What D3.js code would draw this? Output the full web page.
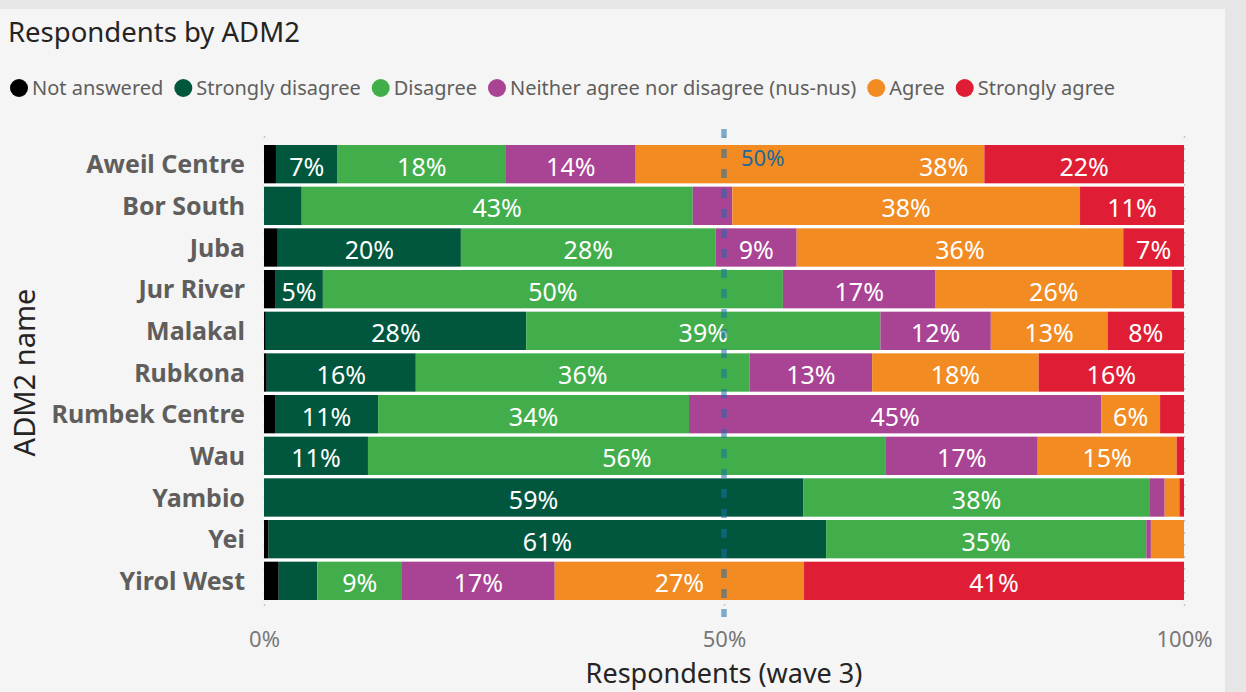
<!DOCTYPE html>
<html lang="en">
<head>
    <meta charset="UTF-8">
    <title>Respondents by ADM2</title>
    <style>
        body {
            margin: 0;
            background-color: #e6e6e6;
            font-family: 'Noto Sans', 'Open Sans', sans-serif;
        }
        #chart {
            width: 1246px;
            height: 692px;
        }
    </style>
</head>
<body>
    <div id="chart"></div>
    <script src="https://d3js.org/d3.v7.min.js"></script>
    <script>
        // data (share of respondents, %)
        var categories = ["Aweil Centre", "Bor South", "Juba", "Jur River", "Malakal", "Rubkona",
                          "Rumbek Centre", "Wau", "Yambio", "Yei", "Yirol West"];
        var seriesNames = ["Not answered", "Strongly disagree", "Disagree",
                           "Neither agree nor disagree (nus-nus)", "Agree", "Strongly agree"];
        var seriesColors = ["#000000", "#01573e", "#42ae4b", "#a94394", "#f18b22", "#df1e36"];

        var notAnswered      = [1.3, 0.0, 1.5, 1.2, 0.2, 0.3, 1.2, 0.0, 0.0, 0.5, 1.6];
        var stronglyDisagree = [6.7, 4.1, 19.9, 5.2, 28.3, 16.2, 11.2, 11.3, 58.6, 60.6, 4.2];
        var disagree         = [18.3, 42.5, 27.7, 50.0, 38.5, 36.3, 33.8, 56.3, 37.7, 34.8, 9.2];
        var neither          = [14.1, 4.3, 8.8, 16.6, 12.0, 13.3, 44.8, 16.5, 1.6, 0.5, 16.6];
        var agree            = [37.9, 37.8, 35.5, 25.7, 12.7, 18.1, 6.4, 15.1, 1.6, 3.6, 27.1];
        var stronglyAgree    = [21.7, 11.3, 6.6, 1.3, 8.3, 15.8, 2.6, 0.8, 0.5, 0.0, 41.3];

        var xTicks = [0, 50, 100];
        var refValue = 50;

        var width = 1246, height = 692;
        var margin = {top: 145, right: 62, bottom: 92, left: 264};

        var svg = d3.select("#chart")
            .append("svg")
            .attr("width", width)
            .attr("height", height);

        // card background
        svg.append("rect")
            .attr("x", 0).attr("y", 9)
            .attr("width", 1225).attr("height", height - 9)
            .attr("fill", "#f5f5f5");

        svg.append("text")
            .attr("x", 8)
            .attr("y", 42)
            .style("font-size", "27.5px")
            .style("fill", "#252423")
            .text("Respondents by ADM2");

        // legend
        var lx = 10;
        seriesNames.forEach(function(name, i) {
            svg.append("circle")
                .attr("cx", lx + 9)
                .attr("cy", 88)
                .attr("r", 9)
                .attr("fill", seriesColors[i]);
            var t = svg.append("text")
                .attr("x", lx + 22)
                .attr("y", 95)
                .style("font-size", "20px")
                .style("fill", "#605e5c")
                .text(name);
            lx = lx + 22 + t.node().getComputedTextLength() + 11;
        });

        var table = categories.map(function(c, i) {
            return {
                name: c,
                "Not answered": notAnswered[i],
                "Strongly disagree": stronglyDisagree[i],
                "Disagree": disagree[i],
                "Neither agree nor disagree (nus-nus)": neither[i],
                "Agree": agree[i],
                "Strongly agree": stronglyAgree[i]
            };
        });

        var stacked = d3.stack().keys(seriesNames)(table);

        var x = d3.scaleLinear()
            .domain([0, 100])
            .range([margin.left, width - margin.right]);

        var y = d3.scaleBand()
            .domain(categories)
            .range([margin.top, height - margin.bottom])
            .paddingInner(0.08);

        // gridlines
        svg.selectAll(".grid")
            .data(xTicks)
            .enter()
            .append("line")
            .attr("x1", d => x(d) + 0.5)
            .attr("x2", d => x(d) + 0.5)
            .attr("y1", 136)
            .attr("y2", 606)
            .attr("stroke", "#c8c8c8")
            .attr("stroke-width", 1.5)
            .attr("stroke-dasharray", "2,10");

        // white strip behind bars, shows through the gaps between rows
        svg.append("rect")
            .attr("x", x(0))
            .attr("y", y.range()[0])
            .attr("width", x(100) - x(0))
            .attr("height", y.range()[1] - y.range()[0])
            .attr("fill", "#ffffff");

        var groups = svg.selectAll(".series")
            .data(stacked)
            .enter()
            .append("g")
            .attr("fill", (d, i) => seriesColors[i]);

        groups.selectAll("rect")
            .data(d => d)
            .enter()
            .append("rect")
            .attr("x", d => x(d[0]))
            .attr("y", d => y(d.data.name))
            .attr("width", d => x(d[1]) - x(d[0]))
            .attr("height", y.bandwidth());

        // data labels
        var labels = svg.append("g")
            .style("font-size", "25px")
            .style("fill", "#ffffff");

        stacked.forEach(function(s) {
            s.forEach(function(d, row) {
                var w = x(d[1]) - x(d[0]);
                if (w <= 0) return;
                var t = labels.append("text")
                    .attr("y", y(d.data.name) + y.bandwidth() / 2)
                    .attr("dy", "0.46em")
                    .text(Math.round(d[1] - d[0]) + "%");
                var tw = t.node().getComputedTextLength();
                if (tw + 10 > w) { t.remove(); return; }
                if (row === 0 && d[0] < refValue && d[1] > refValue) {
                    // pushed aside by the reference line label
                    t.attr("x", x(d[1]) - 16).attr("text-anchor", "end");
                } else {
                    t.attr("x", (x(d[0]) + x(d[1])) / 2).attr("text-anchor", "middle");
                }
            });
        });

        // 50% reference line
        svg.append("line")
            .attr("x1", x(refValue))
            .attr("x2", x(refValue))
            .attr("y1", 129)
            .attr("y2", 617)
            .attr("stroke", "#1a6fa5")
            .attr("stroke-opacity", 0.55)
            .attr("stroke-width", 5.5)
            .attr("stroke-dasharray", "9,11");

        svg.append("text")
            .attr("x", x(refValue) + 17)
            .attr("y", y(categories[0]) + 21)
            .style("font-size", "22px")
            .style("fill", "#22689a")
            .text(refValue + "%");

        // axes
        var yAxis = d3.axisLeft(y).tickSize(0).tickPadding(19);
        var gy = svg.append("g")
            .attr("transform", `translate(${margin.left},0)`)
            .call(yAxis);
        gy.select(".domain").remove();
        gy.selectAll("text")
            .attr("dy", "0.36em")
            .style("font-family", "'Noto Sans', sans-serif")
            .style("font-size", "25px")
            .style("font-weight", "bold")
            .style("fill", "#605e5c");

        var xAxis = d3.axisBottom(x).tickValues(xTicks).tickSize(0).tickPadding(11)
            .tickFormat(d => d + "%");
        var gx = svg.append("g")
            .attr("transform", "translate(0,620)")
            .call(xAxis);
        gx.select(".domain").remove();
        gx.selectAll("text")
            .style("font-family", "'Noto Sans', sans-serif")
            .style("font-size", "22px")
            .style("fill", "#777777");

        svg.append("text")
            .attr("x", x(50))
            .attr("y", 683)
            .style("text-anchor", "middle")
            .style("font-size", "27px")
            .style("fill", "#252423")
            .text("Respondents (wave 3)");

        svg.append("text")
            .attr("transform", "translate(35," + ((y.range()[0] + y.range()[1]) / 2) + ") rotate(-90)")
            .style("text-anchor", "middle")
            .style("font-size", "29px")
            .style("fill", "#252423")
            .text("ADM2 name");
    </script>
</body>
</html>
